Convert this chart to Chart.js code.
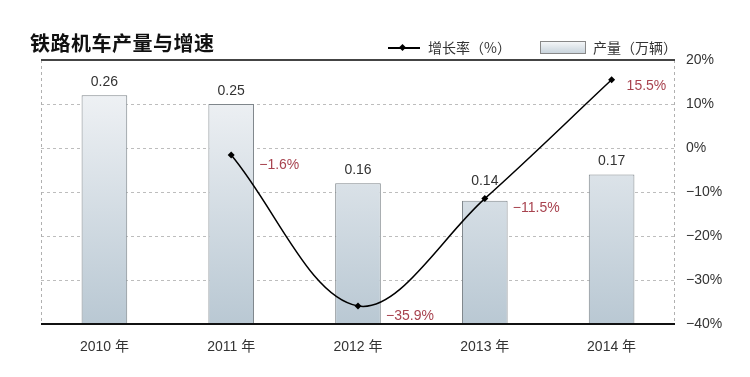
<!DOCTYPE html>
<html>
<head>
<meta charset="utf-8">
<script src="https://cdn.jsdelivr.net/npm/chart.js@4"></script>
<style>
  body { margin:0; background:#fff; font-family:"Liberation Sans","Noto Sans CJK SC",sans-serif; }
  #wrap { position:relative; width:750px; height:377px; }
  #title { position:absolute; left:30px; top:28px; font-family:"Noto Sans CJK SC",sans-serif; font-weight:bold; font-size:20px; color:#111; letter-spacing:0.5px; }
  .lg { position:absolute; top:38px; font-family:"Noto Sans CJK SC",sans-serif; font-size:14px; color:#333; line-height:18px; }
  #lgLine { position:absolute; left:388px; top:47px; width:32px; height:1.5px; background:#000; }
  #lgDot { position:absolute; left:400px; top:45px; width:5px; height:5px; background:#000; transform:rotate(45deg); }
  #lgBox { position:absolute; left:540px; top:41px; width:44px; height:11px; border:1px solid #888; background:linear-gradient(#f4f6f8,#c9d4dc); }
  canvas { position:absolute; left:0; top:0; }
</style>
</head>
<body>
<div id="wrap">
  <canvas id="c" width="750" height="377"></canvas>
  <div id="title">铁路机车产量与增速</div>
  <div id="lgLine"></div><div id="lgDot"></div>
  <div class="lg" style="left:428px">增长率（%）</div>
  <div id="lgBox"></div>
  <div class="lg" style="left:593px">产量（万辆）</div>
</div>
<script>
// ---- data ----
const years = ['2010 年', '2011 年', '2012 年', '2013 年', '2014 年'];
const output = [0.26, 0.25, 0.16, 0.14, 0.17];          // 万辆
const growth = [null, -1.6, -35.9, -11.5, 15.5];          // %
const outputLabels = ['0.26', '0.25', '0.16', '0.14', '0.17'];
const growthLabels = [null, '−1.6%', '−35.9%', '−11.5%', '15.5%'];

const fmtPct = v => (v < 0 ? '−' + Math.abs(v) : v) + '%';

// frame: solid top / bottom rules, dashed side borders
const framePlugin = {
  id: 'frame',
  beforeDatasetsDraw(chart) {
    const { ctx, chartArea: a } = chart;
    ctx.save();
    ctx.strokeStyle = '#b0b0b0';
    ctx.lineWidth = 1;
    ctx.setLineDash([3, 3]);
    [a.left + 0.5, a.right - 0.5].forEach(x => {
      ctx.beginPath(); ctx.moveTo(x, a.top); ctx.lineTo(x, a.bottom); ctx.stroke();
    });
    ctx.restore();
  },
  afterDatasetsDraw(chart) {
    const { ctx, chartArea: a } = chart;
    ctx.save();
    ctx.lineWidth = 2;
    ctx.strokeStyle = '#444';
    ctx.beginPath(); ctx.moveTo(a.left, a.top); ctx.lineTo(a.right, a.top); ctx.stroke();
    ctx.strokeStyle = '#111';
    ctx.beginPath(); ctx.moveTo(a.left, a.bottom); ctx.lineTo(a.right, a.bottom); ctx.stroke();
    ctx.restore();
  }
};

// value labels
const labelPlugin = {
  id: 'labels',
  afterDraw(chart) {
    const { ctx } = chart;
    ctx.save();
    ctx.font = '14px "Liberation Sans", sans-serif';
    ctx.fillStyle = '#333';
    ctx.textAlign = 'center';
    ctx.textBaseline = 'middle';
    chart.getDatasetMeta(1).data.forEach((bar, i) => {
      // 2013 label sits higher to clear the line
      const lift = i === 3 ? 20 : 13;
      ctx.fillText(outputLabels[i], bar.x, bar.y - lift);
    });
    ctx.fillStyle = '#a8434f';
    ctx.textAlign = 'left';
    const pts = chart.getDatasetMeta(0).data;
    pts.forEach((pt, i) => {
      if (growthLabels[i] == null) return;
      const last = i === pts.length - 1;
      ctx.fillText(growthLabels[i], pt.x + (last ? 15 : 28), pt.y + (last ? 6 : 10));
    });
    ctx.restore();
  }
};

new Chart(document.getElementById('c'), {
  data: {
    labels: years,
    datasets: [
      {
        type: 'line', data: growth, yAxisID: 'y2', order: 0,
        borderColor: '#000', borderWidth: 1.5, tension: 0.35,
        pointStyle: 'rectRot', pointRadius: 3.5, pointBackgroundColor: '#000', pointBorderWidth: 0
      },
      {
        type: 'bar', data: output, yAxisID: 'y', order: 1,
        barPercentage: 0.36, categoryPercentage: 1,
        borderColor: '#7f868b', borderWidth: 1,
        backgroundColor: ctx => {
          const a = ctx.chart.chartArea;
          if (!a) return '#dde3e8';
          const g = ctx.chart.ctx.createLinearGradient(0, a.top, 0, a.bottom);
          g.addColorStop(0, '#f6f7f9');
          g.addColorStop(1, '#b9c8d3');
          return g;
        }
      }
    ]
  },
  options: {
    responsive: false,
    animation: false,
    layout: { padding: { left: 41, top: 60, right: 0, bottom: 0 } },
    plugins: { legend: { display: false }, tooltip: { enabled: false } },
    scales: {
      x: {
        grid: { display: false }, border: { display: false },
        ticks: { color: '#333', font: { size: 14, family: '"Liberation Sans","Noto Sans CJK SC"' }, padding: 7 },
        afterFit: s => { s.height = 53; }
      },
      y: { display: false, min: 0, max: 0.30 },
      y2: {
        position: 'right', min: -40, max: 20,
        border: { display: false, dash: [3, 3] },
        grid: {
          drawTicks: false,
          color: c => (c.tick.value === 20 || c.tick.value === -40) ? 'rgba(0,0,0,0)' : '#bdbdbd'
        },
        ticks: {
          stepSize: 10, padding: 11, color: '#333',
          font: { size: 14, family: '"Liberation Sans"' },
          callback: v => fmtPct(v)
        },
        afterFit: s => { s.width = 75; }
      }
    }
  },
  plugins: [framePlugin, labelPlugin]
});
</script>
</body>
</html>
